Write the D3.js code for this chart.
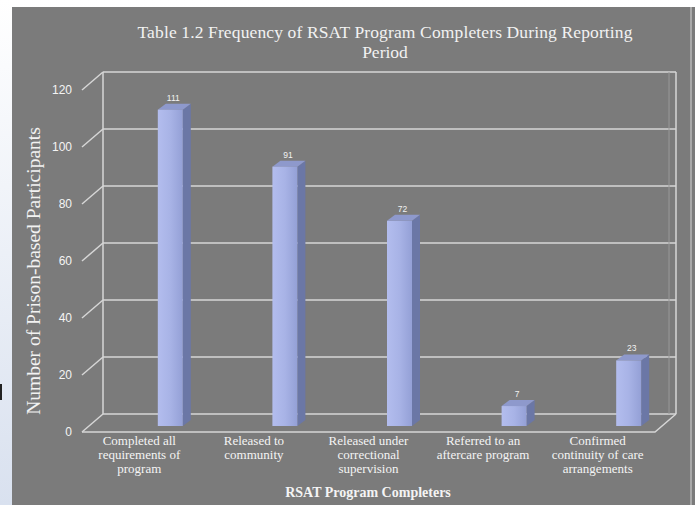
<!DOCTYPE html>
<html>
<head>
<meta charset="utf-8">
<script src="https://cdn.jsdelivr.net/npm/d3@7"></script>
<style>
  body { margin: 0; padding: 0; overflow: hidden; }
</style>
</head>
<body>
<svg id="chart"></svg>
<script>
// chart data
const categories = [
  ['Completed all', 'requirements of', 'program'],
  ['Released to', 'community'],
  ['Released under', 'correctional', 'supervision'],
  ['Referred to an', 'aftercare program'],
  ['Confirmed', 'continuity of care', 'arrangements'],
];
const values = [111, 91, 72, 7, 23];
const yTicks = [0, 20, 40, 60, 80, 100, 120];

const W = 695, H = 505;
// floor / wall geometry (front-left corner of floor + depth offset)
const front = { x0: 82, x1: 655, y: 432 };
const depth = { dx: 21, dy: -18 };
const bar = { w: 25, side: 8, top: -6, shift: 31, base: 426 };

const svg = d3.select('#chart').attr('width', W).attr('height', H);

// page background behind the slide panel
const defs = svg.append('defs');
const bg = defs.append('linearGradient').attr('id', 'bg')
  .attr('x1', 0).attr('y1', 0).attr('x2', 0).attr('y2', 1);
bg.append('stop').attr('offset', 0).attr('stop-color', '#ffffff');
bg.append('stop').attr('offset', 1).attr('stop-color', '#d9e1ef');
const face = defs.append('linearGradient').attr('id', 'face')
  .attr('x1', 0).attr('y1', 0).attr('x2', 1).attr('y2', 0);
face.append('stop').attr('offset', 0).attr('stop-color', '#b3bdee');
face.append('stop').attr('offset', 0.5).attr('stop-color', '#a8b3e6');
face.append('stop').attr('offset', 1).attr('stop-color', '#94a0d6');

svg.append('rect').attr('width', W).attr('height', H).attr('fill', 'url(#bg)');
svg.append('rect').attr('x', 0).attr('y', 384).attr('width', 2).attr('height', 16).attr('fill', '#222');
svg.append('rect').attr('x', 12).attr('y', 7).attr('width', 683).attr('height', H - 7)
  .attr('fill', '#7b7b7b');
svg.append('line').attr('x1', 691).attr('x2', 691).attr('y1', 7).attr('y2', H)
  .attr('stroke', '#a9a9a9').attr('stroke-width', 2);

// scales
const yh = d3.scaleLinear().domain([0, 120]).range([0, 342]);
const x = d3.scaleBand().domain(d3.range(values.length)).range([front.x0, front.x1]);

const back = { x0: front.x0 + depth.dx, x1: front.x1 + depth.dx, y: front.y + depth.dy };
const gridColor = '#d6d6d6';
const g = svg.append('g');

// back wall grid lines
g.selectAll('.grid').data(yTicks).join('line')
  .attr('x1', back.x0).attr('x2', back.x1)
  .attr('y1', d => back.y - yh(d)).attr('y2', d => back.y - yh(d))
  .attr('stroke', gridColor).attr('stroke-width', 1.5);
// side wall diagonals
g.selectAll('.diag').data(yTicks).join('line')
  .attr('x1', front.x0).attr('y1', d => front.y - yh(d))
  .attr('x2', back.x0).attr('y2', d => back.y - yh(d))
  .attr('stroke', gridColor).attr('stroke-width', 1.5);
// wall verticals
g.append('line').attr('x1', back.x0).attr('x2', back.x0)
  .attr('y1', back.y - yh(120)).attr('y2', back.y)
  .attr('stroke', gridColor).attr('stroke-width', 1.5);
g.append('line').attr('x1', back.x1).attr('x2', back.x1)
  .attr('y1', back.y - yh(120)).attr('y2', back.y)
  .attr('stroke', gridColor).attr('stroke-width', 1.5);
g.append('line').attr('x1', back.x1 - 7).attr('x2', back.x1 - 7)
  .attr('y1', back.y - yh(120)).attr('y2', back.y)
  .attr('stroke', '#999').attr('stroke-width', 1);
// floor
g.append('path')
  .attr('d', `M${front.x0},${front.y}L${front.x1},${front.y}L${back.x1},${back.y}`)
  .attr('fill', 'none').attr('stroke', gridColor).attr('stroke-width', 1.5);

// tick labels
g.selectAll('.tick').data(yTicks).join('text')
  .attr('x', front.x0 - 10).attr('y', d => front.y - yh(d) + 4)
  .attr('text-anchor', 'end')
  .attr('font-family', 'Liberation Sans, sans-serif').attr('font-size', 12)
  .attr('fill', '#f4f4f4')
  .text(d => d);

// bars
const bars = g.selectAll('.bar').data(values).join('g');
const bx = (d, i) => x(i) + x.bandwidth() / 2 + bar.shift - bar.w / 2;
bars.append('path')
  .attr('d', (d, i) => {
    const x0 = bx(d, i) + bar.w, yt = bar.base - yh(d);
    return `M${x0},${yt}L${x0 + bar.side},${yt + bar.top}L${x0 + bar.side},${bar.base + bar.top}L${x0},${bar.base}Z`;
  })
  .attr('fill', '#6b77a6');
bars.append('path')
  .attr('d', (d, i) => {
    const x0 = bx(d, i), yt = bar.base - yh(d);
    return `M${x0},${yt}L${x0 + bar.side},${yt + bar.top}L${x0 + bar.w + bar.side},${yt + bar.top}L${x0 + bar.w},${yt}Z`;
  })
  .attr('fill', '#8e99cc');
bars.append('rect')
  .attr('x', bx).attr('y', d => bar.base - yh(d))
  .attr('width', bar.w).attr('height', d => yh(d))
  .attr('fill', 'url(#face)');
bars.append('text')
  .attr('x', (d, i) => bx(d, i) + bar.w / 2 + 3)
  .attr('y', d => bar.base - yh(d) - 9)
  .attr('text-anchor', 'middle')
  .attr('font-family', 'Liberation Sans, sans-serif').attr('font-size', 8.5)
  .attr('fill', '#f2f2f2')
  .text(d => d);

// category labels
const cat = g.selectAll('.cat').data(categories).join('text')
  .attr('text-anchor', 'middle')
  .attr('font-family', 'Liberation Serif, serif').attr('font-size', 13)
  .attr('fill', '#f4f4f4');
cat.selectAll('tspan').data((d, i) => d.map(t => ({ t, i }))).join('tspan')
  .attr('x', d => x(d.i) + x.bandwidth() / 2)
  .attr('y', (d, j) => 445 + j * 14)
  .text(d => d.t);

// titles
const title = svg.append('text').attr('text-anchor', 'middle')
  .attr('font-family', 'Liberation Serif, serif').attr('font-size', 17.5)
  .attr('fill', '#f2f2f2');
title.append('tspan').attr('x', 385).attr('y', 38)
  .attr('textLength', 495).attr('lengthAdjust', 'spacing')
  .text('Table 1.2 Frequency  of RSAT Program Completers  During Reporting');
title.append('tspan').attr('x', 385).attr('y', 58).text('Period');

svg.append('text')
  .attr('transform', 'translate(40,271) rotate(-90)')
  .attr('text-anchor', 'middle')
  .attr('font-family', 'Liberation Serif, serif').attr('font-size', 19.5)
  .attr('fill', '#f2f2f2')
  .text('Number of Prison-based  Participants');

svg.append('text')
  .attr('x', 368).attr('y', 497)
  .attr('text-anchor', 'middle')
  .attr('font-family', 'Liberation Serif, serif').attr('font-size', 14)
  .attr('font-weight', 'bold')
  .attr('fill', '#f4f4f4')
  .text('RSAT Program Completers');
</script>
</body>
</html>
